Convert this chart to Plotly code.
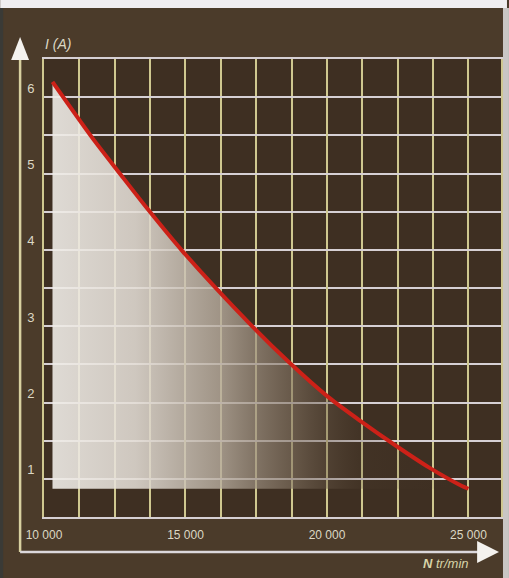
import plotly.graph_objects as go

# ---- data ----
speed_rpm = [10300, 11700, 12700, 13650, 14900, 17250, 18650, 20050, 21250, 22450, 23600, 24750, 25000]
current_a = [6.2, 5.47, 4.99, 4.54, 3.98, 3.04, 2.53, 2.07, 1.74, 1.43, 1.15, 0.91, 0.87]

x_tickvals = [10000, 15000, 20000, 25000]
x_ticktext = ["10 000", "15 000", "20 000", "25 000"]
y_tickvals = [1, 2, 3, 4, 5, 6]
y_ticktext = ["1", "2", "3", "4", "5", "6"]

x_title = "<b>N</b> tr/min"
y_title = "I (A)"

# ---- layout geometry ----
W, H = 509, 578
ML, MR, MT, MB = 44, 6, 59, 61
PW, PH = W - ML - MR, H - MT - MB


def px(x):
    return (x - ML) / PW


def py(y):
    return (H - MB - y) / PH


BG = "#4b3b2a"
PLOT_BG = "#3e2f22"
TXT = "#dcd8c4"
VGRID = "#cfc890"
HGRID = "#d6d0d4"
FONT = "Liberation Sans Narrow, Liberation Sans, Arial, sans-serif"

fig = go.Figure()

# gradient fill under the curve
poly_x = speed_rpm + [speed_rpm[0]]
poly_y = current_a + [current_a[-1]]
fig.add_trace(go.Scatter(
    x=poly_x, y=poly_y, mode="none", fill="toself",
    fillgradient=dict(
        type="horizontal",
        colorscale=[
            [0.0, "rgba(240,237,232,0.9)"],
            [0.2, "rgba(228,222,214,0.87)"],
            [0.4, "rgba(185,174,160,0.8)"],
            [0.58, "rgba(130,115,98,0.6)"],
            [0.75, "rgba(80,64,48,0.2)"],
            [1.0, "rgba(62,47,34,0)"],
        ],
    ),
    hoverinfo="skip", showlegend=False,
))

# red curve
fig.add_trace(go.Scatter(
    x=speed_rpm, y=current_a, mode="lines",
    line=dict(color="#cc2118", width=4, shape="spline", smoothing=0.8),
    showlegend=False,
))

fig.update_layout(
    width=W, height=H,
    margin=dict(l=ML, r=MR, t=MT, b=MB, pad=0),
    paper_bgcolor=BG, plot_bgcolor=PLOT_BG,
    font=dict(family=FONT, color=TXT, size=12),
    xaxis=dict(
        range=[10000, 26150], tickvals=x_tickvals, ticktext=x_ticktext,
        showgrid=True, gridcolor=VGRID, gridwidth=1.5,
        minor=dict(tick0=10000, dtick=1250, showgrid=True, gridcolor=VGRID, gridwidth=1.5),
        showline=True, linecolor=HGRID, linewidth=2, mirror=True,
        zeroline=False, ticks="", ticklabelstandoff=6,
        tickfont=dict(size=12, color=TXT),
    ),
    yaxis=dict(
        range=[0.5, 6.5], tickvals=y_tickvals, ticktext=y_ticktext,
        showgrid=True, gridcolor=HGRID, gridwidth=1.5,
        minor=dict(tick0=0, dtick=0.5, showgrid=True, gridcolor=HGRID, gridwidth=1.5),
        showline=True, linecolor=VGRID, linewidth=2, mirror=True,
        zeroline=False, ticks="", ticklabelstandoff=5,
        ticklabelposition="outside top",
        tickfont=dict(size=13, color=TXT),
    ),
)

shapes = []
# top light strip and edges of the scanned page
shapes.append(dict(type="rect", xref="paper", yref="paper", x0=px(0), x1=px(W), y0=py(8), y1=py(-2),
                   fillcolor="#f0eef0", line=dict(width=0), layer="above"))
shapes.append(dict(type="rect", xref="paper", yref="paper", x0=px(505), x1=px(W + 2), y0=py(H + 2), y1=py(8),
                   fillcolor="#c9c6c4", line=dict(width=0), layer="above"))
shapes.append(dict(type="rect", xref="paper", yref="paper", x0=px(-2), x1=px(3), y0=py(H + 2), y1=py(8),
                   fillcolor="#3a3a36", line=dict(width=0), layer="above"))
# outer axis arrows
shapes.append(dict(type="line", xref="paper", yref="paper", x0=px(20), x1=px(20), y0=py(552), y1=py(58),
                   line=dict(color="#d8d0a0", width=2.5)))
shapes.append(dict(type="line", xref="paper", yref="paper", x0=px(20), x1=px(482), y0=py(552), y1=py(552),
                   line=dict(color="#dcd8dc", width=2.5)))
shapes.append(dict(type="path", xref="paper", yref="paper",
                   path=f"M {px(20)} {py(37)} L {px(11)} {py(60)} L {px(29)} {py(60)} Z",
                   fillcolor="#f4f2ee", line=dict(width=0)))
shapes.append(dict(type="path", xref="paper", yref="paper",
                   path=f"M {px(501)} {py(552)} L {px(479)} {py(541)} L {px(479)} {py(563)} Z",
                   fillcolor="#f4f2ee", line=dict(width=0)))
fig.update_layout(shapes=shapes)

fig.add_annotation(xref="paper", yref="paper", x=px(43), y=py(44), xanchor="left", yanchor="middle",
                   text=f"<i>{y_title}</i>", showarrow=False, font=dict(size=14, color=TXT, family=FONT))
fig.add_annotation(xref="paper", yref="paper", x=px(473), y=py(563), xanchor="right", yanchor="middle",
                   text=f"<i>{x_title}</i>", showarrow=False, font=dict(size=13, color="#d8d4a8", family=FONT))

fig.write_html("out.html", config={"displayModeBar": False},
               post_script="document.body.style.margin='0px';")
